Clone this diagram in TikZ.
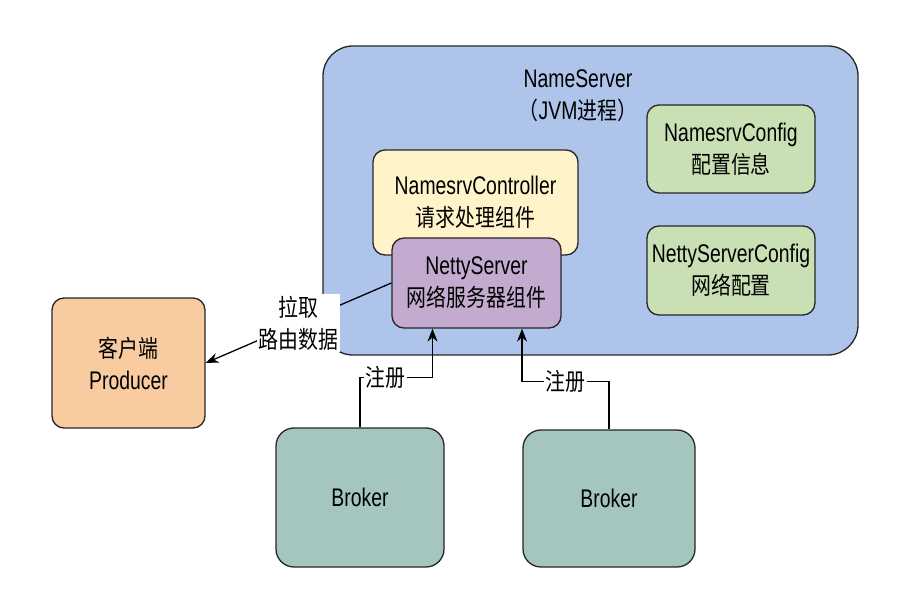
\documentclass[tikz,border=0pt]{standalone}
\usepackage{fontspec}
\setmainfont{Liberation Sans}[FakeStretch=0.76]
\newfontfamily\cjk{Noto Sans CJK SC}[Scale=0.94,FakeStretch=0.83]
\usetikzlibrary{arrows.meta,calc}
\definecolor{nsblue}{HTML}{AEC4EA}
\definecolor{ctrlyellow}{HTML}{FFF3CA}
\definecolor{nettypurple}{HTML}{C2ABCF}
\definecolor{cfggreen}{HTML}{C8E0B4}
\definecolor{prodorange}{HTML}{F8CCA0}
\definecolor{brokerteal}{HTML}{A4C6BE}
\tikzset{BOX/.style={rectangle,rounded corners=12pt,draw=black!85,line width=1.3pt,align=center,inner sep=0pt,font=\fontsize{25.5}{32}\selectfont}}
\tikzset{ARROW/.style={line width=1.3pt, -{Stealth[length=13pt,width=10pt]}}}
\tikzset{LABEL/.style={fill=white,inner sep=1.5pt,align=center,font=\fontsize{25.5}{32}\selectfont}}

\begin{document}
\begin{tikzpicture}[x=1pt,y=-1pt]
\useasboundingbox (0,0) rectangle (913,593);

\node[BOX, rounded corners=30pt, fill=nsblue, minimum width=535pt, minimum height=309pt] (n_nameserver) at (590.5,200.5) {};
\node[align=center, font=\fontsize{25.5}{32}\selectfont] (n_ns_title) at (578,96) {NameServer \\ {\cjk （}JVM{\cjk 进程）}};

\node[BOX, fill=ctrlyellow, minimum width=205pt, minimum height=105pt] (n_controller) at (475.5,202.5) {NamesrvController \\ {\cjk 请求处理组件}};
\node[BOX, fill=nettypurple, minimum width=169pt, minimum height=90pt] (n_netty) at (476.5,283) {NettyServer \\ {\cjk 网络服务器组件}};

\node[BOX, fill=cfggreen, minimum width=168pt, minimum height=88pt] (n_srvcfg) at (731,149) {NamesrvConfig \\ {\cjk 配置信息}};
\node[BOX, fill=cfggreen, minimum width=168pt, minimum height=89pt] (n_nettycfg) at (731,270.5) {NettyServerConfig \\ {\cjk 网络配置}};

\node[BOX, fill=prodorange, minimum width=153pt, minimum height=130pt] (n_producer) at (128.5,363) {{\cjk 客户端} \\ Producer};

\node[BOX, rounded corners=18pt, fill=brokerteal, minimum width=168pt, minimum height=139pt] (n_broker1) at (360,497.5) {Broker};
\node[BOX, rounded corners=18pt, fill=brokerteal, minimum width=172pt, minimum height=137pt] (n_broker2) at (609,498.5) {Broker};

% pull route data
\draw[ARROW] (n_netty.west) -- (n_producer.east) node[midway, LABEL]{\cjk 拉取 \\ \cjk 路由数据};

% register 1
\coordinate (c_reg1_in) at ($(n_netty.south)+(-44,0)$);
\coordinate (c_reg1_turn) at ($(n_broker1.north)+(0,-50)$);
\draw[ARROW] (n_broker1.north) -- (c_reg1_turn) -- node[pos=0.35, LABEL]{\cjk 注册} (c_reg1_turn-|c_reg1_in) -- (c_reg1_in);

% register 2
\coordinate (c_reg2_in) at ($(n_netty.south)+(45.5,0)$);
\coordinate (c_reg2_turn) at ($(n_broker2.north)+(0,-48)$);
\draw[ARROW] (n_broker2.north) -- (c_reg2_turn) -- node[pos=0.5, LABEL]{\cjk 注册} (c_reg2_turn-|c_reg2_in) -- (c_reg2_in);

\end{tikzpicture}
\end{document}
